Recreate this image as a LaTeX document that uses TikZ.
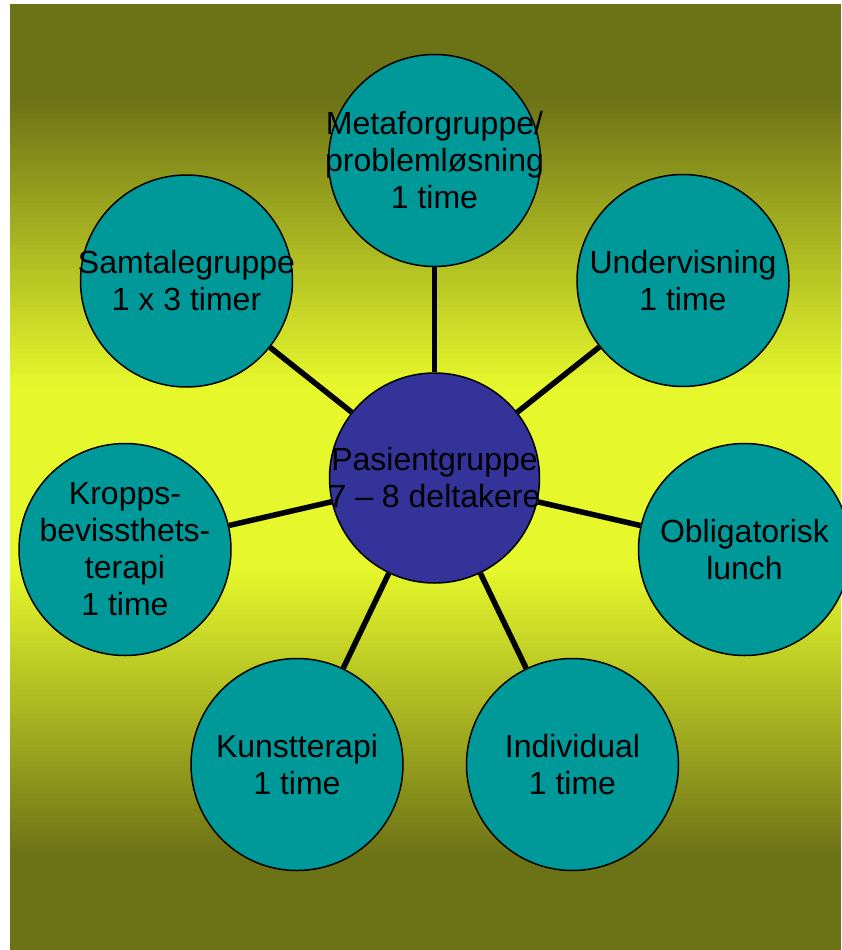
\documentclass[tikz,border=0pt]{standalone}
\usepackage{fontspec}
\setmainfont{Liberation Sans}
\definecolor{olivebg}{RGB}{108,114,22}
\definecolor{yellowbg}{RGB}{230,248,44}
\definecolor{tealfill}{RGB}{0,153,153}
\definecolor{bluefill}{RGB}{51,51,153}
\begin{document}
\begin{tikzpicture}[x=1pt,y=-1pt,
  bubble/.style={circle, draw=black, line width=1.5pt, fill=tealfill, minimum size=212pt, inner sep=0pt},
  hub/.style={circle, draw=black, line width=1.5pt, fill=bluefill, minimum size=210pt, inner sep=0pt},
  lbl/.style={align=center, inner sep=0pt, font=\fontsize{32}{37}\selectfont, text=black},
  conn/.style={draw=black, line width=5.5pt}]
\useasboundingbox (0,0) rectangle (841,950);
% vertical gradient background, drawn as thin strips
\foreach \i in {0,...,199}{
  \pgfmathsetmacro\yy{4+\i*4.73}
  \pgfmathsetmacro\dd{abs(\yy+2.365-477)}
  \pgfmathsetmacro\tt{min(1,max(0,(\dd-90)/290))}
  \pgfmathsetmacro\pp{100*(1-\tt)}
  \fill[yellowbg!\pp!olivebg] (10,\yy) rectangle (841,\yy+5.2);
}
% circles
\node[hub] (c) at (434.5,478) {};
\node[bubble] (meta) at (434.5,160.5) {};
\node[bubble] (samt) at (186.5,281) {};
\node[bubble] (under) at (683,280.5) {};
\node[bubble] (krop) at (125,549.5) {};
\node[bubble] (oblig) at (744.5,549.5) {};
\node[bubble] (kunst) at (297,764.5) {};
\node[bubble] (indiv) at (572.5,764.5) {};
% connectors
\foreach \n in {meta,samt,under,krop,oblig,kunst,indiv}
  \draw[conn] (c) -- (\n);
% labels
\node[lbl] (c-t) at (c) {Pasientgruppe\\7 – 8 deltakere};
\node[lbl] (meta-t) at (meta) {Metaforgruppe/\\problemløsning\\1 time};
\node[lbl] (samt-t) at (samt) {Samtalegruppe\\1 x 3 timer};
\node[lbl] (under-t) at (under) {Undervisning\\1 time};
\node[lbl] (krop-t) at (krop) {Kropps-\\bevissthets-\\terapi\\1 time};
\node[lbl] (oblig-t) at (oblig) {Obligatorisk\\lunch};
\node[lbl] (kunst-t) at (kunst) {Kunstterapi\\1 time};
\node[lbl] (indiv-t) at (indiv) {Individual\\1 time};
\end{tikzpicture}
\end{document}
